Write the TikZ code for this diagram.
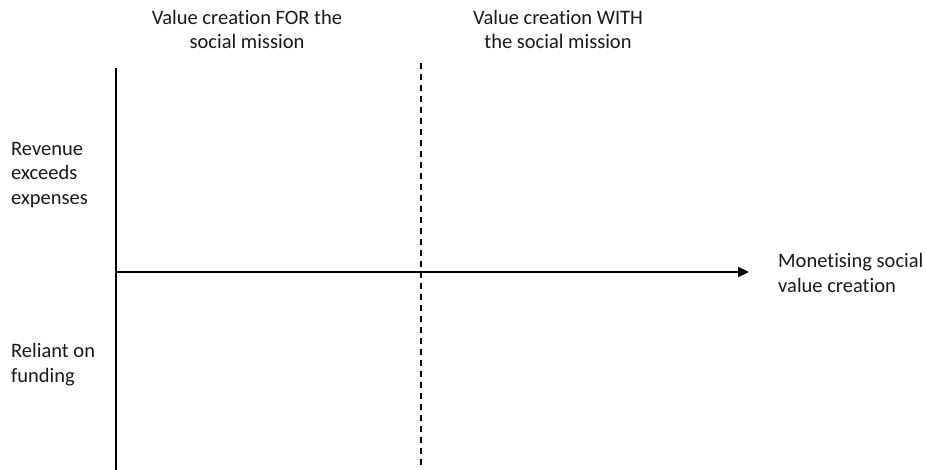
\documentclass[tikz,border=0pt]{standalone}
\usepackage{fontspec}
\setmainfont{Carlito}[Ligatures=NoCommon]
\usetikzlibrary{arrows.meta}
\begin{document}
\begin{tikzpicture}[x=1pt,y=-1pt,
  lbl/.style={inner sep=0pt,text=black!90,font=\fontsize{20.5}{24.5}\selectfont},
  axis/.style={line width=2pt},
  divider/.style={line width=1.1pt,dash pattern=on 6pt off 5pt}]
\useasboundingbox (0,0) rectangle (926,470);
\coordinate (ytop) at (116,68);
\coordinate (ybot) at (116,470);
\coordinate (origin) at (116,272);
\coordinate (xend) at (749,272);
\coordinate (dtop) at (421,63);
\coordinate (dbot) at (421,470);
\draw[axis] (ytop) -- (ybot);
\draw[axis,-{Triangle[length=11pt,width=10pt]}] (origin) -- (xend);
\draw[divider] (dtop) -- (dbot);
\node[lbl,align=center] (forlbl) at (247,29.5) {Value creation FOR the\\social mission};
\node[lbl,align=center] (withlbl) at (558,29.5) {Value creation WITH\\the social mission};
\node[lbl,align=left,anchor=west] (rev) at (11,175) {Revenue\\exceeds\\expenses};
\node[lbl,align=left,anchor=west] (rel) at (11,364.5) {Reliant on\\funding};
\node[lbl,align=left,anchor=west] (mon) at (778,273) {Monetising social\\value creation};
\end{tikzpicture}
\end{document}
